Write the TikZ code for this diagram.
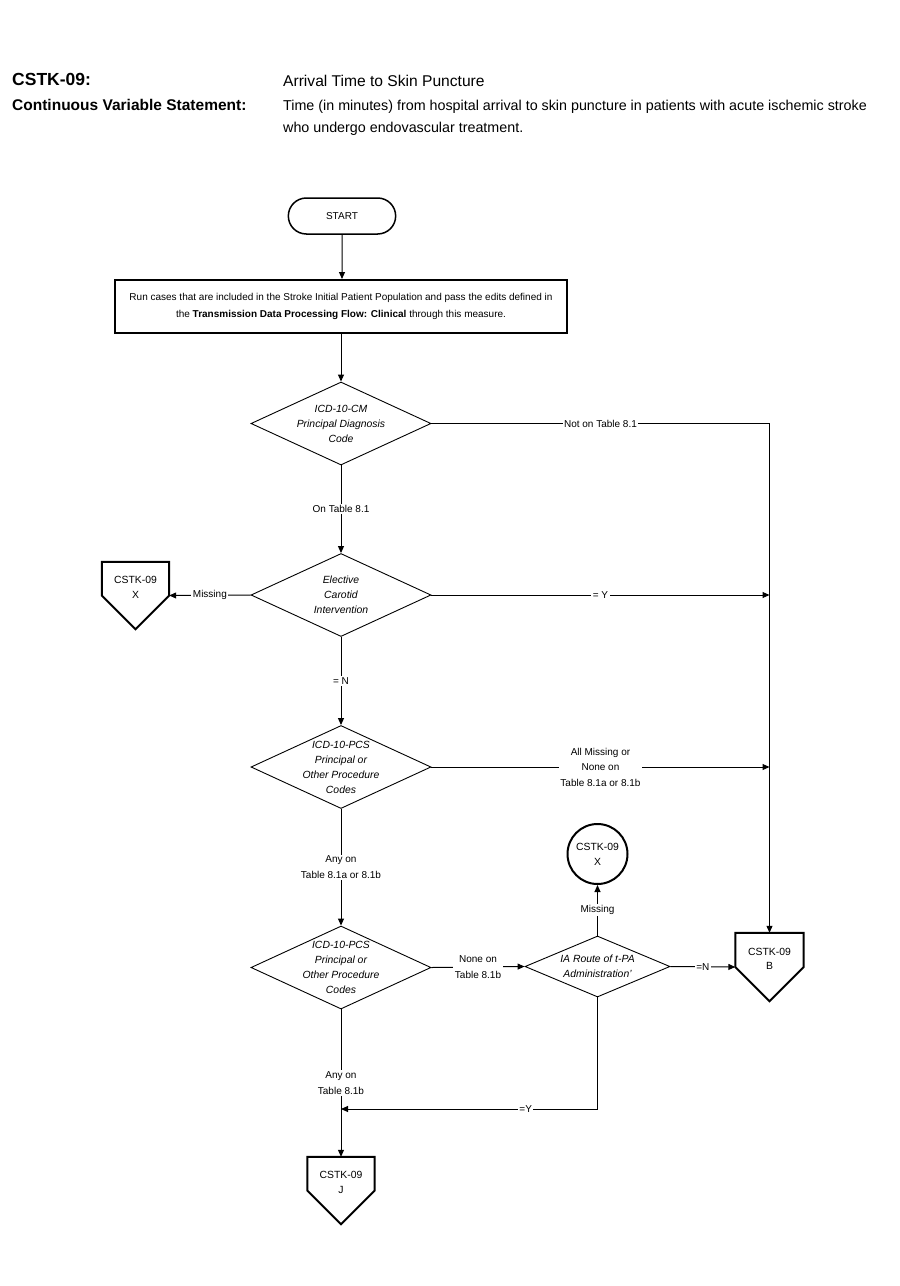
\documentclass[tikz,border=0pt]{standalone}
\usepackage{fontspec}
\setmainfont{Liberation Sans}
\usetikzlibrary{shapes.geometric,shapes.misc,arrows.meta}
\begin{document}
\begin{tikzpicture}[x=1pt,y=-1pt,
  >={Triangle[length=7pt,width=6pt]},
  conn/.style={line width=1pt,draw=black},
  lab/.style={font=\fontsize{10}{15.5}\selectfont, align=center, fill=white, inner sep=1.5pt},
  dtext/.style={font=\fontsize{10.4}{15}\selectfont\itshape, align=center, inner sep=0pt},
  diam/.style={diamond, draw, line width=0.9pt, minimum width=180pt, minimum height=83pt, inner sep=0pt},
  startbox/.style={rounded rectangle, draw, line width=1.5pt, minimum width=114pt, minimum height=36pt, font=\fontsize{10}{12}\selectfont},
  runbox/.style={rectangle, draw, line width=2pt, minimum width=452pt, minimum height=53pt, align=center, font=\fontsize{10}{16.5}\selectfont, inner sep=0pt},
  pent/.style={rectangle, minimum width=67pt, minimum height=67pt, inner sep=0pt},
  ptext/.style={font=\fontsize{10.4}{14.5}\selectfont, align=center, inner sep=0pt, yshift=8pt},
  circ/.style={circle, draw, line width=2pt, minimum size=60pt, inner sep=0pt, align=center, font=\fontsize{10.4}{15}\selectfont},
  hb/.style={anchor=base west, inner sep=0pt, font=\bfseries\fontsize{16}{18}\selectfont},
  ht/.style={anchor=base west, inner sep=0pt, font=\fontsize{14.3}{18}\selectfont}
]
\useasboundingbox (0,0) rectangle (900,1286);

% header
\node[hb, font=\bfseries\fontsize{17.5}{18}\selectfont] (h1) at (12,85) {CSTK-09:};
\node[hb, font=\bfseries\fontsize{15.5}{18}\selectfont] (h2) at (12,110) {Continuous Variable Statement:};
\node[ht, font=\fontsize{15.6}{18}\selectfont] (t1) at (283,86) {Arrival Time to Skin Puncture};
\node[ht] (s1) at (283,110) {Time (in minutes) from hospital arrival to skin puncture in patients with acute ischemic stroke};
\node[ht] (s2) at (283,132) {who undergo endovascular treatment.};

% nodes
\node[startbox] (start) at (342,216) {START};
\node[runbox] (run) at (341,306.5) {Run cases that are included in the Stroke Initial Patient Population and pass the edits defined in\\the \textbf{Transmission Data Processing Flow: Clinical} through this measure.};
\node[diam, label={[dtext]center:ICD-10-CM\\Principal Diagnosis\\Code}] (d1) at (341,423.5) {};
\node[diam, label={[dtext]center:Elective\\Carotid\\Intervention}] (d2) at (341,595) {};
\node[diam, label={[dtext]center:ICD-10-PCS\\Principal or\\Other Procedure\\Codes}] (d3) at (341,767) {};
\node[diam, label={[dtext]center:ICD-10-PCS\\Principal or\\Other Procedure\\Codes}] (d4) at (341,967.5) {};
\node[diam, minimum width=145pt, minimum height=61pt, label={[dtext]center:IA Route of t-PA\\Administration'}] (ia) at (597.5,966.5) {};
\node[circ] (cx) at (597.5,854) {CSTK-09\\X};
\node[pent, label={[ptext]center:CSTK-09\\X}] (px) at (135.5,595.5) {};
\node[pent, minimum width=68pt, minimum height=68pt, label={[ptext]center:CSTK-09\\B}] (pb) at (769.5,967) {};
\node[pent, label={[ptext]center:CSTK-09\\J}] (pj) at (341,1190.5) {};
\foreach \p in {px,pb,pj}
  \draw[line width=2pt, line join=miter] (\p.north west) -- (\p.north east) -- (\p.east) -- (\p.south) -- (\p.west) -- cycle;

\coordinate (c1) at (769.5,423.5);
\coordinate (c2) at (597.5,1109);
\coordinate (c3) at (341,1109);

% connectors
\draw[conn,->] (start) -- (start |- run.north);
\draw[conn,->] (run) -- (d1);
\draw[conn] (d1.east) -- node[lab]{Not on Table 8.1} (c1);
\draw[conn,->] (c1) -- (pb.north);
\draw[conn,->] (d1) -- node[lab]{On Table 8.1} (d2);
\draw[conn,->] (d2.west) -- node[lab]{Missing} (px.east);
\draw[conn,->] (d2.east) -- node[lab]{= Y} (d2.east -| pb.north);
\draw[conn,->] (d2) -- node[lab]{= N} (d3);
\draw[conn,->] (d3.east) -- node[lab]{All Missing or\\None on\\Table 8.1a or 8.1b} (d3.east -| pb.north);
\draw[conn,->] (d3) -- node[lab]{Any on\\Table 8.1a or 8.1b} (d4);
\draw[conn,->] (d4.east) -- node[lab]{None on\\Table 8.1b} (ia.west);
\draw[conn,->] (ia.north) -- node[lab]{Missing} (cx.south);
\draw[conn,->] (ia.east) -- node[lab]{=N} (pb.west);
\draw[conn] (ia.south) -- (c2);
\draw[conn,->] (c2) -- node[lab, pos=0.28]{=Y} (c3);
\draw[conn,->] (d4) -- node[lab]{Any on\\Table 8.1b} (pj.north);
\end{tikzpicture}
\end{document}
